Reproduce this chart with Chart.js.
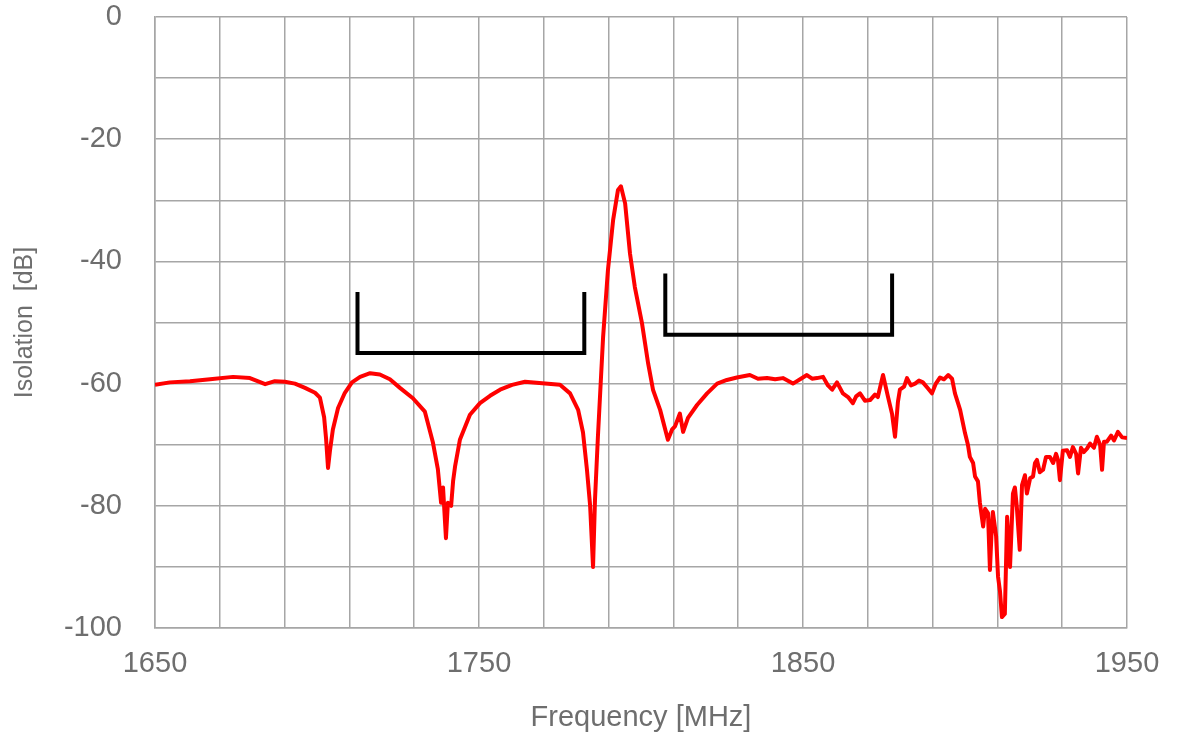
<!DOCTYPE html>
<html>
<head>
<meta charset="utf-8">
<script src="https://cdn.jsdelivr.net/npm/chart.js@4.4.0/dist/chart.umd.min.js"></script>
<style>
  html, body { margin: 0; padding: 0; background: #fff; }
  #wrap { width: 1178px; height: 742px; }
</style>
</head>
<body>
<div id="wrap"><canvas id="isoChart"></canvas></div>
<script>
// Isolation curve
const freq = [1650.0, 1654.6, 1660.8, 1667.0, 1674.1, 1679.3, 1684.0, 1687.0, 1690.1, 1693.2,
  1696.3, 1699.4, 1700.9, 1702.2, 1702.8, 1703.4, 1704.0, 1704.9, 1706.5, 1708.6,
  1710.8, 1713.3, 1716.4, 1719.4, 1722.5, 1725.6, 1729.6, 1733.3, 1735.8, 1737.3,
  1738.3, 1738.9, 1739.8, 1740.4, 1741.4, 1742.0, 1742.6, 1744.1, 1747.2, 1750.3,
  1753.4, 1756.5, 1760.2, 1764.2, 1770.4, 1775.0, 1778.1, 1780.6, 1782.1, 1783.3,
  1784.3, 1785.2, 1785.8, 1786.7, 1788.3, 1789.8, 1791.4, 1792.9, 1793.8, 1795.1,
  1796.6, 1798.1, 1800.3, 1802.2, 1803.7, 1805.9, 1808.3, 1809.6, 1810.5, 1812.0,
  1813.0, 1814.5, 1817.3, 1820.4, 1823.5, 1826.5, 1829.6, 1833.6, 1836.1, 1838.9,
  1841.4, 1843.8, 1846.9, 1849.1, 1851.2, 1852.8, 1854.3, 1856.2, 1857.7, 1859.0,
  1860.5, 1862.3, 1863.9, 1865.4, 1866.4, 1867.6, 1869.1, 1870.7, 1872.2, 1873.1,
  1874.7, 1876.2, 1877.5, 1878.4, 1879.3, 1879.9, 1881.2, 1882.1, 1883.3, 1884.6,
  1885.8, 1887.0, 1888.6, 1889.8, 1891.0, 1892.3, 1893.5, 1894.8, 1896.0, 1896.9,
  1898.5, 1900.0, 1900.9, 1901.5, 1902.5, 1903.1, 1904.0, 1904.6, 1905.6, 1906.2,
  1907.1, 1907.7, 1908.3, 1908.6, 1909.6, 1910.2, 1910.8, 1911.4, 1912.3, 1913.0,
  1913.9, 1914.8, 1915.4, 1916.0, 1916.9, 1917.6, 1918.5, 1919.1, 1920.1, 1921.0,
  1921.6, 1922.2, 1923.1, 1924.1, 1925.0, 1926.2, 1927.2, 1928.1, 1928.7, 1929.3,
  1930.2, 1931.5, 1932.4, 1933.3, 1934.3, 1934.9, 1935.8, 1936.7, 1937.7, 1938.6,
  1939.8, 1940.7, 1941.7, 1942.3, 1942.9, 1943.8, 1945.1, 1946.0, 1947.2, 1948.5,
  1950.0];
const isolation = [-60.2, -59.8, -59.6, -59.3, -58.9, -59.1, -60.1, -59.6, -59.7, -60.0,
  -60.7, -61.5, -62.3, -65.5, -69.0, -73.8, -71.0, -67.5, -64.0, -61.5,
  -59.8, -58.9, -58.3, -58.5, -59.3, -60.7, -62.4, -64.6, -69.7, -74.0,
  -79.5, -77.0, -85.3, -79.5, -80.0, -76.0, -73.6, -69.2, -65.1, -63.2,
  -62.0, -61.0, -60.2, -59.7, -60.0, -60.2, -61.6, -64.3, -68.0, -74.0,
  -80.0, -90.0, -79.0, -68.7, -52.4, -41.4, -33.2, -28.3, -27.7, -30.5,
  -38.7, -44.2, -50.1, -56.7, -61.0, -64.3, -69.2, -67.5, -67.0, -64.9,
  -67.9, -65.6, -63.5, -61.6, -60.0, -59.4, -59.0, -58.6, -59.2, -59.1,
  -59.3, -59.1, -60.0, -59.3, -58.6, -59.2, -59.1, -58.9, -60.3, -61.0,
  -59.8, -61.6, -62.2, -63.2, -62.1, -61.6, -62.8, -62.7, -61.8, -62.2,
  -58.6, -62.1, -65.0, -68.7, -63.0, -61.0, -60.5, -59.1, -60.3, -60.0,
  -59.5, -59.8, -60.8, -61.6, -60.0, -59.0, -59.3, -58.6, -59.2, -61.6,
  -64.3, -68.1, -70.0, -72.0, -73.0, -75.2, -76.0, -79.5, -83.4, -80.5,
  -81.2, -90.5, -83.0, -81.0, -85.0, -91.6, -94.0, -98.2, -97.7, -81.8,
  -90.0, -78.0, -77.0, -80.2, -87.2, -76.6, -75.0, -78.0, -75.5, -75.2,
  -73.0, -72.5, -74.5, -74.1, -72.0, -72.0, -73.0, -71.5, -72.5, -75.8,
  -71.0, -70.9, -72.0, -70.4, -71.5, -74.7, -70.5, -71.2, -70.6, -69.8,
  -70.5, -68.7, -70.0, -74.1, -69.5, -69.5, -68.5, -69.3, -67.9, -68.8,
  -68.9];

// Band spec brackets (Tx / Rx)
const txFreq = [1712.5, 1712.5, 1782.5, 1782.5];
const txLevel = [-45, -55, -55, -45];
const rxFreq = [1807.5, 1807.5, 1877.5, 1877.5];
const rxLevel = [-42, -52, -52, -42];

const xMin = 1650, xMax = 1950, xStep = 20, xLabelStep = 100;
const yMin = -100, yMax = 0, yStep = 10, yLabelStep = 20;

function toPoints(xs, ys) {
    return xs.map(function(x, i) { return { x: x, y: ys[i] }; });
}

document.addEventListener('DOMContentLoaded', function() {
    const textColor = '#6e6e6e';
    const gridColor = '#a6a6a6';
    const ctx = document.getElementById('isoChart');

    new Chart(ctx.getContext('2d'), {
        type: 'line',
        data: {
            datasets: [{
                label: 'Isolation',
                data: toPoints(freq, isolation),
                borderColor: '#ff0000',
                borderWidth: 4,
                pointRadius: 0,
                tension: 0,
                fill: false,
                borderJoinStyle: 'round'
            }, {
                label: 'Tx',
                data: toPoints(txFreq, txLevel),
                borderColor: '#000000',
                borderWidth: 4,
                pointRadius: 0,
                tension: 0,
                fill: false
            }, {
                label: 'Rx',
                data: toPoints(rxFreq, rxLevel),
                borderColor: '#000000',
                borderWidth: 4,
                pointRadius: 0,
                tension: 0,
                fill: false
            }]
        },
        options: {
            responsive: true,
            maintainAspectRatio: false,
            animation: false,
            layout: {
                padding: { left: 0, top: 17, right: 51, bottom: 0 }
            },
            plugins: {
                legend: { display: false },
                tooltip: { enabled: false }
            },
            scales: {
                x: {
                    type: 'linear',
                    min: xMin,
                    max: xMax,
                    afterFit: function(scale) {
                        scale.height = 114;
                        scale.paddingLeft = 0;
                        scale.paddingRight = 0;
                    },
                    ticks: {
                        stepSize: xStep,
                        autoSkip: false,
                        maxRotation: 0,
                        padding: 19,
                        color: textColor,
                        font: { family: 'Liberation Sans', size: 29 },
                        callback: function(v) {
                            return (v - xMin) % xLabelStep === 0 ? v : '';
                        }
                    },
                    grid: {
                        color: gridColor,
                        lineWidth: 1.5,
                        drawTicks: false
                    },
                    border: { color: gridColor, width: 1.5 },
                    title: {
                        display: true,
                        text: 'Frequency [MHz]',
                        color: textColor,
                        font: { family: 'Liberation Sans', size: 29 },
                        padding: { top: 0, bottom: 7 }
                    }
                },
                y: {
                    min: yMin,
                    max: yMax,
                    afterFit: function(scale) {
                        scale.width = 155;
                        scale.paddingTop = 0;
                        scale.paddingBottom = 0;
                    },
                    ticks: {
                        stepSize: yStep,
                        autoSkip: false,
                        padding: 33,
                        color: textColor,
                        font: { family: 'Liberation Sans', size: 29 },
                        callback: function(v) {
                            return v % yLabelStep === 0 ? v : '';
                        }
                    },
                    grid: {
                        color: gridColor,
                        lineWidth: 1.5,
                        drawTicks: false
                    },
                    border: { color: gridColor, width: 1.5 },
                    title: {
                        display: true,
                        text: 'Isolation  [dB]',
                        color: textColor,
                        font: { family: 'Liberation Sans', size: 25 },
                        padding: { top: 10, bottom: 0 }
                    }
                }
            }
        }
    });
});
</script>
</body>
</html>
